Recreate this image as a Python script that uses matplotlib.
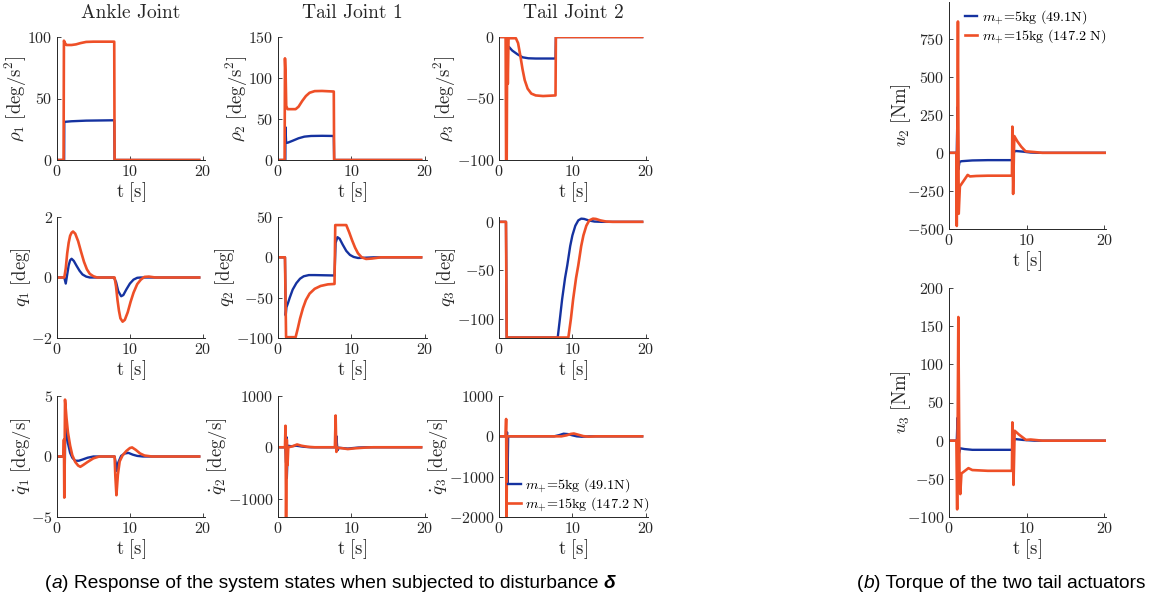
import numpy as np
import matplotlib
matplotlib.use('Agg')
from matplotlib import pyplot as plt

plt.rcParams['font.family'] = 'cmr10'
plt.rcParams['mathtext.fontset'] = 'cm'
plt.rcParams['axes.unicode_minus'] = False
plt.rcParams['axes.formatter.use_mathtext'] = True

BLUE = '#1532a0'
ORANGE = '#ee4f27'

legend_labels = [r'$m_{+}$=5kg (49.1N)', r'$m_{+}$=15kg (147.2 N)']
col_titles = ['Ankle Joint', 'Tail Joint 1', 'Tail Joint 2']

# (t, value) points
rho1_blue = [(0, 0), (0.98, 0), (1.0, 31), (2, 31.5), (4, 32), (7.85, 32.3), (7.9, 0), (19.5, 0)]
rho1_orange = [(0, 0), (0.9, 0), (0.95, 97), (1.1, 95), (1.3, 93.5), (2.0, 93.5), (2.6, 94), (3.2, 95),
               (4.0, 96), (5, 96.2), (7.85, 96.2), (7.9, 0), (19.5, 0)]

rho2_blue = [(0, 0), (1.0, 0), (1.02, 40), (1.1, 22), (1.3, 21), (2.0, 23.5), (2.8, 26.5), (3.6, 28.5),
             (4.5, 29.3), (6, 29.5), (7.6, 29.3), (7.65, 0), (19.5, 0)]
rho2_orange = [(0, 0), (0.9, 0), (0.95, 124), (1.05, 100), (1.12, 66), (1.3, 62), (2.4, 62), (2.8, 65),
               (3.3, 72), (3.8, 78), (4.3, 82), (5.0, 84), (6, 84.2), (7.6, 83.5), (7.65, 0), (19.5, 0)]

rho3_blue = [(0, 0), (1.0, 0), (1.05, -30), (1.12, -12), (1.35, -8), (1.8, -11), (2.5, -14), (3.2, -16.5),
             (4.0, -17.3), (5, -17.5), (7.7, -17.5), (7.75, 0), (19.5, 0)]
rho3_orange = [(0, 0), (0.9, 0), (0.97, -105), (1.05, -100), (1.12, 0), (1.2, -38), (1.3, -1), (2.3, -1),
               (2.6, -5), (2.9, -15), (3.2, -26), (3.5, -35), (3.9, -42), (4.4, -46), (5.0, -47.5),
               (6, -48), (7.7, -47.5), (7.75, 0), (19.5, 0)]

q1_blue = [(0, 0), (1.0, 0), (1.2, -0.2), (1.4, 0.1), (1.6, 0.4), (1.8, 0.57), (2.0, 0.62), (2.3, 0.55),
           (2.7, 0.38), (3.1, 0.22), (3.5, 0.1), (4.0, 0.03), (4.5, 0), (7.8, 0), (8.1, -0.15), (8.4, -0.45),
           (8.8, -0.62), (9.1, -0.58), (9.5, -0.4), (10.0, -0.2), (10.5, -0.07), (11.0, -0.01), (11.5, 0),
           (19.5, 0)]
q1_orange = [(0, 0), (1.0, 0), (1.2, 0.3), (1.4, 0.8), (1.6, 1.15), (1.8, 1.38), (2.0, 1.48), (2.2, 1.52),
             (2.5, 1.45), (2.9, 1.2), (3.3, 0.85), (3.7, 0.52), (4.1, 0.27), (4.5, 0.12), (5.0, 0.04),
             (5.5, 0), (7.9, 0), (8.1, -0.3), (8.3, -0.75), (8.5, -1.1), (8.7, -1.35), (9.0, -1.46),
             (9.3, -1.4), (9.7, -1.15), (10.1, -0.8), (10.5, -0.5), (11.0, -0.22), (11.5, -0.07),
             (12.0, 0.02), (12.6, 0.03), (13.5, 0), (19.5, 0)]

q2_blue = [(0, 0), (0.95, 0), (1.05, -72), (1.15, -62), (1.35, -57), (1.6, -50), (2.0, -40), (2.5, -32),
           (3.0, -26.5), (3.5, -23.5), (4.2, -22), (5, -22), (7.7, -22.5), (7.85, 18), (8.1, 25), (8.4, 23),
           (8.8, 16), (9.3, 8), (9.8, 3), (10.3, 0.5), (10.9, -0.8), (11.8, -0.5), (13, 0), (19.5, 0)]
q2_orange = [(0, 0), (0.95, 0), (1.1, -99), (2.4, -99), (2.7, -88), (3.0, -76), (3.4, -63), (3.8, -53),
             (4.3, -45), (5.0, -39), (5.8, -35.5), (6.8, -33.5), (7.7, -33), (7.8, 40), (9.3, 40),
             (9.7, 31), (10.1, 21), (10.5, 12), (10.9, 5), (11.4, 0), (12.0, -2), (12.8, -1.5), (14, 0),
             (19.5, 0)]

q3_blue = [(0, 0), (0.95, 0), (1.05, -119.5), (8.0, -119.5), (8.3, -100), (8.6, -80), (9.0, -58), (9.3, -45),
           (9.7, -25), (10.0, -14), (10.4, -4), (10.8, 1.5), (11.2, 3.3), (11.6, 3), (12.2, 1.5), (13, 0.3),
           (14, 0), (19.5, 0)]
q3_orange = [(0, 0), (0.95, 0), (1.05, -119.5), (9.45, -119.5), (9.8, -100), (10.1, -80), (10.5, -58),
             (10.8, -45), (11.2, -25), (11.5, -14), (11.9, -4), (12.3, 1.5), (12.8, 3.3), (13.2, 3),
             (13.8, 1.5), (14.6, 0.3), (15.5, 0), (19.5, 0)]

qd1_blue = [(0, 0), (1.0, 0), (1.05, -1.8), (1.15, 3.0), (1.3, 2.0), (1.5, 1.1), (1.8, 0.3), (2.1, -0.1),
            (2.5, -0.35), (3.0, -0.35), (3.5, -0.25), (4.2, -0.1), (5.0, 0), (7.9, 0), (8.05, -0.5),
            (8.2, -1.2), (8.4, -0.5), (8.8, 0.05), (9.3, 0.25), (9.8, 0.3), (10.4, 0.15), (11.0, 0.05),
            (11.8, 0), (19.5, 0)]
qd1_orange = [(0, 0), (0.9, 0), (0.95, 1.4), (1.0, -3.4), (1.1, 4.7), (1.3, 3.2), (1.5, 2.0), (1.8, 0.9),
              (2.1, 0.1), (2.5, -0.45), (2.9, -0.75), (3.2, -0.85), (3.6, -0.7), (4.2, -0.45), (5.0, -0.15),
              (5.8, 0), (7.9, 0), (8.0, -1.6), (8.15, -3.2), (8.35, -1.5), (8.6, -0.4), (9.0, 0.1),
              (9.5, 0.45), (10.0, 0.7), (10.3, 0.75), (10.8, 0.55), (11.4, 0.25), (12.0, 0.08), (13, 0),
              (19.5, 0)]

qd2_blue = [(0, 0), (1.0, 0), (1.1, -300), (1.15, 200), (1.2, -600), (1.35, 30), (1.8, 20), (2.5, 30),
            (3.5, 10), (4.5, 0), (7.85, 0), (7.95, 220), (8.1, -60), (8.3, -10), (9.5, -25), (11, -5),
            (12, 0), (19.5, 0)]
qd2_orange = [(0, 0), (0.95, 0), (1.02, 420), (1.1, -1400), (1.2, 150), (1.3, -350), (1.4, 0), (2.0, 20),
              (2.6, 55), (3.2, 30), (4.0, 10), (5, 0), (7.75, 0), (7.85, 620), (7.95, -90), (8.1, -10),
              (8.8, -20), (9.5, -35), (10.5, -20), (12, -5), (13, 0), (19.5, 0)]

qd3_blue = [(0, 0), (1.05, 0), (1.1, 100), (1.15, -1150), (1.25, 0), (7.5, 0), (8.2, 30), (8.8, 65),
            (9.4, 55), (10.0, 25), (10.6, 0), (11.3, -10), (12.3, 0), (19.5, 0)]
qd3_orange = [(0, 0), (0.9, 0), (0.97, 430), (1.03, -2050), (1.1, 0), (8.5, 0), (9.2, 25), (9.8, 60),
              (10.2, 70), (10.8, 40), (11.5, 5), (12.2, -8), (13.2, 0), (19.5, 0)]

u2_blue = [(0, 0), (1.0, 0), (1.1, 300), (1.2, -110), (1.35, -60), (1.6, -55), (3, -50), (5, -48),
           (8.1, -48), (8.3, 5), (8.6, 12), (9.5, 8), (10.5, 2), (11.5, 0), (20.2, 0)]
u2_orange = [(0, 0), (0.95, 0), (1.0, -480), (1.15, 862), (1.25, -400), (1.4, -220), (2.4, -145),
             (2.7, -155), (3.5, -152), (5, -150), (8.1, -150), (8.15, 172), (8.25, -270), (8.4, 110),
             (8.8, 75), (9.3, 40), (9.85, 10), (11, 5), (12, 0), (20.2, 0)]

u3_blue = [(0, 0), (1.0, 0), (1.1, 30), (1.25, -18), (1.45, -10), (2, -11), (3, -12), (8.1, -12),
           (8.3, 1), (8.6, 2), (9.5, 1), (11, 0), (20.2, 0)]
u3_orange = [(0, 0), (0.95, 0), (1.05, -90), (1.2, 162), (1.35, -45), (1.45, -70), (1.6, -43), (2.5, -36),
             (3.0, -38.5), (5, -39.5), (8.1, -39.5), (8.15, 24), (8.3, -58), (8.45, 13), (9.0, 8),
             (9.9, 1), (10.5, 1.5), (12, 0), (20.2, 0)]

W, H = 1156, 601
fig = plt.figure(figsize=(W / 100, H / 100), dpi=100)


def px_axes(x0, x1, y0, y1):
    return fig.add_axes([x0 / W, 1 - y1 / H, (x1 - x0) / W, (y1 - y0) / H])


def style(ax, xlim, ylim, yticks, ylabel, pad=-1):
    for s in ['top', 'right']:
        ax.spines[s].set_visible(False)
    for s in ['left', 'bottom']:
        ax.spines[s].set_color('#262626')
        ax.spines[s].set_linewidth(0.7)
    ax.tick_params(direction='in', length=3, width=0.6, colors='#262626', labelsize=11.5, pad=3)
    ax.set_xlim(*xlim)
    ax.set_ylim(*ylim)
    ax.set_xticks([0, 10, 20])
    ax.set_yticks(yticks)
    ax.set_ylabel(ylabel, fontsize=13.5, color='#262626', labelpad=pad)
    ax.set_xlabel(r'$\mathrm{t}\ [\mathrm{s}]$', fontsize=13.5, color='#262626', labelpad=1)


def draw(ax, blue, orange):
    b = np.array(blue)
    o = np.array(orange)
    lb, = ax.plot(b[:, 0], b[:, 1], color=BLUE, lw=1.7)
    lo, = ax.plot(o[:, 0], o[:, 1], color=ORANGE, lw=1.9)
    return lb, lo


leg_kw = dict(frameon=False, fontsize=10.2, handlelength=0.9, handletextpad=0.3,
              labelspacing=0.05, borderaxespad=0, borderpad=0)

cols = [(57, 205), (278, 427), (499, 648)]
rows = [(37, 160), (217, 338), (396, 517)]

panels = [
    [(rho1_blue, rho1_orange, (0, 100), [0, 50, 100], r'$\rho_1\ [\mathrm{deg/s^2}]$'),
     (rho2_blue, rho2_orange, (0, 150), [0, 50, 100, 150], r'$\rho_2\ [\mathrm{deg/s^2}]$'),
     (rho3_blue, rho3_orange, (-100, 0), [-100, -50, 0], r'$\rho_3\ [\mathrm{deg/s^2}]$')],
    [(q1_blue, q1_orange, (-2, 2), [-2, 0, 2], r'$q_1\ [\mathrm{deg}]$'),
     (q2_blue, q2_orange, (-100, 50), [-100, -50, 0, 50], r'$q_2\ [\mathrm{deg}]$'),
     (q3_blue, q3_orange, (-120, 5), [-100, -50, 0], r'$q_3\ [\mathrm{deg}]$')],
    [(qd1_blue, qd1_orange, (-5, 5), [-5, 0, 5], r'$\dot{q}_1\ [\mathrm{deg/s}]$'),
     (qd2_blue, qd2_orange, (-1360, 1000), [-1000, 0, 1000], r'$\dot{q}_2\ [\mathrm{deg/s}]$'),
     (qd3_blue, qd3_orange, (-2000, 1000), [-2000, -1000, 0, 1000], r'$\dot{q}_3\ [\mathrm{deg/s}]$')],
]

for i, (y0, y1) in enumerate(rows):
    for j, (x0, x1) in enumerate(cols):
        blue, orange, ylim, yticks, ylabel = panels[i][j]
        ax = px_axes(x0, x1, y0, y1)
        handles = draw(ax, blue, orange)
        style(ax, (0, 20.3), ylim, yticks, ylabel)
        if i == 0:
            ax.set_title(col_titles[j], fontsize=14, color='#262626', pad=14)
        if i == 2 and j == 2:
            ax.legend(handles, legend_labels, loc='center left', bbox_to_anchor=(0.06, 0.18), **leg_kw)

ax = px_axes(949, 1106, 2, 229)
handles = draw(ax, u2_blue, u2_orange)
style(ax, (0, 20.2), (-500, 990), [-500, -250, 0, 250, 500, 750], r'$u_2\ [\mathrm{Nm}]$', pad=-4)
ax.legend(handles, legend_labels, loc='center left', bbox_to_anchor=(0.1, 0.89), **leg_kw)

ax = px_axes(949, 1106, 288, 517)
draw(ax, u3_blue, u3_orange)
style(ax, (0, 20.2), (-100, 200), [-100, -50, 0, 50, 100, 150, 200], r'$u_3\ [\mathrm{Nm}]$', pad=-4)

# captions: pieces laid side by side on one baseline
cap = dict(family='Liberation Sans', fontsize=13.8, color='black', va='baseline')
renderer = fig.canvas.get_renderer()


def caption(x, y, pieces):
    for txt, kw in pieces:
        t = fig.text(x / W, 1 - y / H, txt, **cap, **kw)
        x = t.get_window_extent(renderer).x1


caption(45, 588, [('(', {}), ('a', {'style': 'italic'}),
                  (') Response of the system states when subjected to disturbance ', {}),
                  ('δ', {'style': 'italic', 'weight': 'bold'})])
caption(857, 588, [('(', {}), ('b', {'style': 'italic'}), (') Torque of the two tail actuators', {})])

fig.savefig('out.png', dpi=100)
